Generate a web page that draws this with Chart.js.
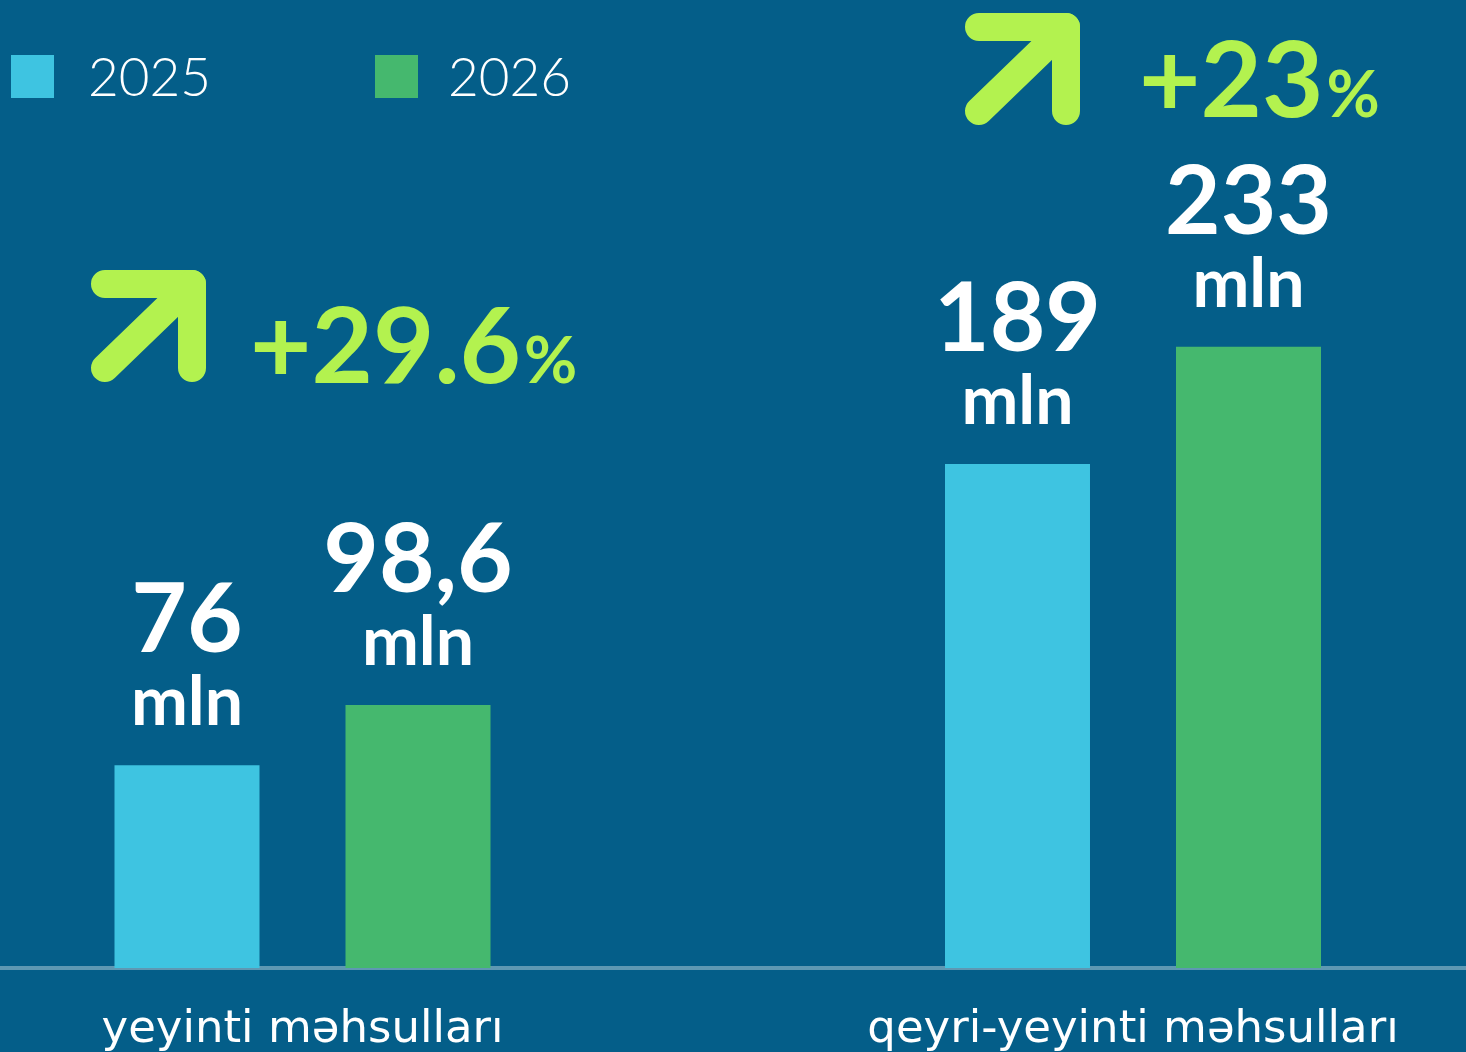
<!DOCTYPE html>
<html>
<head>
<meta charset="utf-8">
<script src="https://cdn.jsdelivr.net/npm/chart.js@4.4.1/dist/chart.umd.min.js"></script>
<style>
  html, body { margin: 0; padding: 0; background: #045E89; overflow: hidden; }
  #wrap { position: relative; width: 1466px; height: 1052px; }
  canvas { display: block; }
</style>
</head>
<body>
<div id="wrap"><canvas id="c" width="1466" height="1052"></canvas></div>
<script>
// ---- data ----
const categories = ['yeyinti məhsulları', 'qeyri-yeyinti məhsulları'];
const seriesNames = ['2025', '2026'];
const values2025 = [76, 189];
const values2026 = [98.6, 233];
const unitLabel = 'mln';
const growthLabels = ['+29.6', '+23'];
const growthSuffix = '%';

// ---- style / layout ----
const BG = '#045E89';
const CYAN = '#3EC4E1';
const GREEN = '#45B86E';
const LIME = '#B3F24F';
const badgeBoxes = [ { left: 91, top: 270, textX: 250, base: 383 }, { left: 965, top: 13, textX: 1139, base: 117 } ];
const legendItems = [ { box: 11, text: 88 }, { box: 375, text: 448 } ];

const fmt = v => String(v).replace('.', ',');

const overlay = {
  id: 'overlay',
  afterDatasetsDraw(chart) {
    const ctx = chart.ctx;
    ctx.save();
    ctx.fillStyle = '#ffffff';
    ctx.textAlign = 'center';
    ctx.textBaseline = 'alphabetic';
    chart.data.datasets.forEach((ds, di) => {
      const meta = chart.getDatasetMeta(di);
      meta.data.forEach((bar, i) => {
        const v = ds.data[i].y;
        ctx.font = '700 96px Lato';
        ctx.fillText(fmt(v), bar.x, bar.y - 113);
        ctx.font = '700 68px Lato';
        ctx.fillText(unitLabel, bar.x, bar.y - 40);
      });
    });
    ctx.restore();
  },
  afterDraw(chart) {
    const ctx = chart.ctx;
    ctx.save();
    // legend
    chart.data.datasets.forEach((ds, di) => {
      const it = legendItems[di];
      ctx.fillStyle = ds.backgroundColor;
      ctx.fillRect(it.box, 55, 43, 43);
      ctx.fillStyle = '#ffffff';
      ctx.font = '300 53px Lato';
      ctx.textAlign = 'left';
      ctx.textBaseline = 'alphabetic';
      ctx.fillText(ds.label, it.text, 96);
    });
    // growth badges
    growthLabels.forEach((g, i) => {
      const b = badgeBoxes[i];
      const w = 28, r = w / 2;
      const x0 = b.left + r, y0 = b.top + r, x1 = b.left + 115 - r, y1 = b.top + 112 - r;
      ctx.strokeStyle = LIME;
      ctx.lineWidth = w;
      ctx.lineCap = 'round';
      ctx.lineJoin = 'round';
      ctx.beginPath();
      ctx.moveTo(x0, y0);
      ctx.lineTo(x1, y0);
      ctx.lineTo(x1, y1);
      ctx.stroke();
      ctx.beginPath();
      ctx.moveTo(x1, y0);
      ctx.lineTo(x0, y1);
      ctx.stroke();
      ctx.fillStyle = LIME;
      ctx.textAlign = 'left';
      ctx.textBaseline = 'alphabetic';
      ctx.font = '700 106px Lato';
      ctx.fillText(g, b.textX, b.base);
      const tw = ctx.measureText(g).width;
      ctx.font = '700 65px Lato';
      ctx.fillText(growthSuffix, b.textX + tw + 3, b.base);
    });
    ctx.restore();
  }
};

const xMin = -302.5 / 830.5;
const xMax = xMin + 1466 / 830.5;

new Chart(document.getElementById('c'), {
  type: 'bar',
  data: {
    datasets: [
      { label: seriesNames[0], data: values2025.map((v, i) => ({ x: i, y: v })), backgroundColor: CYAN },
      { label: seriesNames[1], data: values2026.map((v, i) => ({ x: i, y: v })), backgroundColor: GREEN }
    ]
  },
  options: {
    responsive: false,
    animation: false,
    devicePixelRatio: 1,
    categoryPercentage: 0.5563,
    barPercentage: 0.6277,
    layout: { padding: 0 },
    plugins: { legend: { display: false }, tooltip: { enabled: false } },
    scales: {
      x: {
        type: 'linear',
        bounds: 'data',
        offset: false,
        min: xMin,
        max: xMax,
        z: 1,
        grid: { display: false, drawTicks: false },
        border: { display: true, color: 'rgba(255,255,255,0.36)', width: 4 },
        afterBuildTicks: s => { s.ticks = categories.map((c, i) => ({ value: i })); },
        afterFit: s => { s.height = 84; s.paddingLeft = 0; s.paddingRight = 0; },
        ticks: {
          autoSkip: false,
          maxRotation: 0,
          padding: 35,
          color: '#ffffff',
          font: { family: '"DejaVu Sans"', size: 45, weight: 400 },
          callback: v => categories[v]
        }
      },
      y: { display: false, min: 0, max: 363 }
    }
  },
  plugins: [overlay]
});
</script>
</body>
</html>
